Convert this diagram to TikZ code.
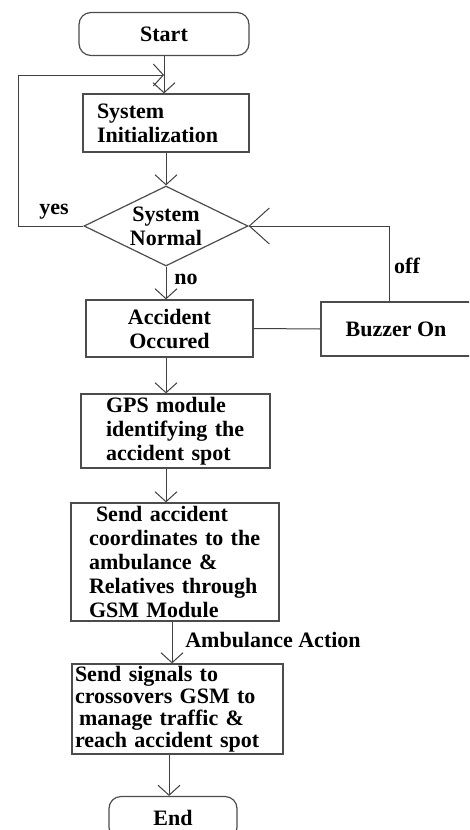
\documentclass[tikz,border=0pt]{standalone}
\usepackage{fontspec}
\setmainfont{Liberation Serif}
\usetikzlibrary{shapes.geometric,arrows.meta}

\begin{document}
\begin{tikzpicture}[x=1pt,y=-1pt,
  txt/.style={font=\fontsize{22}{24}\selectfont\bfseries},
  box/.style={txt,draw=black!70,line width=1.2pt,inner ysep=0pt},
  term/.style={box,rounded corners=12pt,minimum width=170pt,minimum height=43pt},
  dia/.style={box,diamond,inner sep=0pt,minimum width=164pt,minimum height=80pt},
  line/.style={draw=black!75,line width=1pt},
  arr/.style={line,-{Straight Barb[length=10pt,width=22pt]}},
  bigarr/.style={line,-{Straight Barb[length=20pt,width=36pt]}}]

\useasboundingbox (0,0) rectangle (469,830);
\clip (0,0) rectangle (469,830);

% boxes
\node[term] (start) at (164,34) {Start};
\node[box,align=left,text width=138pt,inner xsep=14pt,minimum height=58pt] (init) at (166,123) {System\\Initialization};
\node[dia,label={[txt,align=center]center:System\\Normal}] (dec) at (166,226) {};
\node[box,align=center,minimum width=167pt,minimum height=57pt] (acc) at (169.5,328.5) {Accident\\Occured};
\node[box,minimum width=150pt,minimum height=54pt] (buz) at (396,329) {Buzzer On};
\node[box,align=left,text width=139pt,inner xsep=25pt,minimum height=74pt] (gps) at (175.5,431) {GPS module\\identifying the\\accident spot};
\node[box,align=left,text width=172pt,inner xsep=18pt,minimum height=118pt] (send) at (175,562) {\hspace*{7pt}Send accident\\coordinates to the\\ambulance \&\\Relatives through\\GSM Module};
\node[box,align=left,text width=205pt,inner xsep=3pt,minimum height=90pt,font=\fontsize{22}{22}\selectfont\bfseries] (sig) at (177.5,709) {Send signals to\\crossovers GSM to\\\hspace*{4pt}manage traffic \&\\reach accident spot};
\node[term,minimum width=128pt] (end) at (173,818) {End};

\coordinate (loop) at (164,75);

% connectors
\draw[line] (start.south) -- (loop);
\draw[arr] (loop) -- (start.south |- init.north);
\draw[arr] (dec.west) -- ++(-65,0) |- (loop);
\draw[arr] (init.south) -- (dec.north);
\draw[arr] (dec.south) -- (dec.south |- acc.north);
\draw[line] (acc.east) -- (buz.west);
\draw[bigarr] ([xshift=-7pt]buz.north) |- (dec.east);
\draw[arr] (acc.south -| dec.south) -- (gps.north -| dec.south);
\draw[arr] (gps.south -| dec.south) -- (send.north -| dec.south);
\draw[arr] ([xshift=-3pt]send.south) -- ([xshift=-3pt]send.south |- sig.north);
\draw[arr] ([xshift=-4pt]end.north |- sig.south) -- ([xshift=-4pt]end.north);

% labels
\node[txt] (yes) at (54,212) {yes};
\node[txt] (no) at (186,279) {no};
\node[txt] (off) at (407,266) {off};
\node[txt] (amb) at (273,640) {Ambulance Action};

\end{tikzpicture}
\end{document}
